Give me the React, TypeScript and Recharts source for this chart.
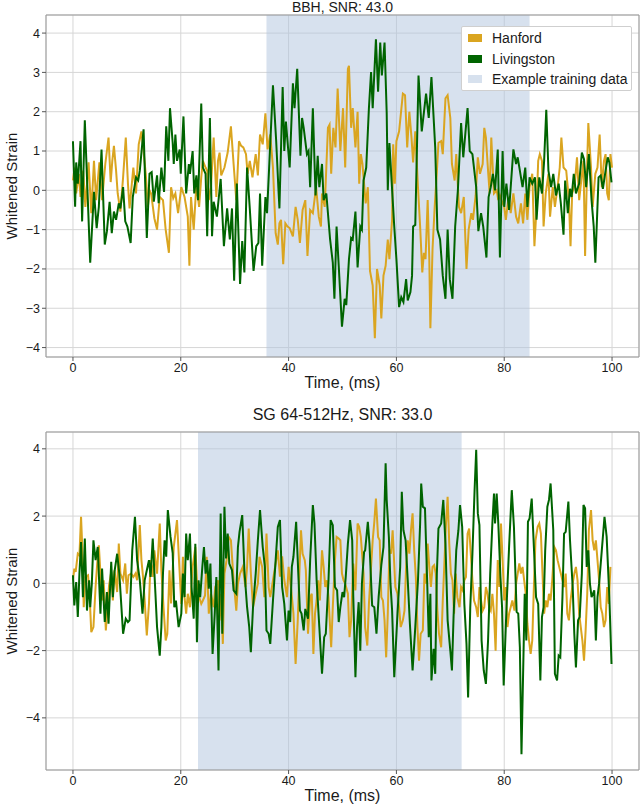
import { LineChart, Line, XAxis, YAxis, CartesianGrid, ReferenceArea } from 'recharts'

const HANFORD = '#daa520'
const LIVINGSTON = '#006400'
const TRAINING = '#b0c4de'
const FONT = "'Liberation Sans', Arial, sans-serif"

const X_TICKS = [0, 20, 40, 60, 80, 100]
const BBH_Y_TICKS = [-4, -3, -2, -1, 0, 1, 2, 3, 4]
const SG_Y_TICKS = [-4, -2, 0, 2, 4]

// training window (ms)
const BBH_WINDOW = [35.9, 84.7]
const SG_WINDOW = [23.2, 72.1]

// [time ms, whitened strain]
const BBH_HANFORD: [number, number][] = [
  [0, 0.25], [0.3, 0.58], [0.6, -0.08], [1.1, 0.42], [1.4, -0.17], [1.9, 0.5], [2.3, -0.42], [2.9, 0.71], [3.4, -0.58], [3.9, 0.75],
  [4.3, -0.25], [4.9, 0.71], [5.4, -0.25], [6.0, 0.67], [6.6, 1.34], [7.0, 0.21], [7.3, 0.75], [7.6, 1.13], [8.0, 0.5], [8.3, -0.08],
  [8.8, -0.54], [9.3, 0.33], [9.8, 1.34], [10.2, 0.17], [10.5, -0.46], [11.2, 0.58], [11.7, -0.08], [12.2, 1.17], [12.7, 1.5], [13.1, 1.0],
  [13.5, 0.42], [13.9, -0.42], [14.2, 0.0], [14.5, -0.08], [15.1, -0.71], [15.6, -1.0], [16.1, -0.17], [16.7, -0.25], [17.2, -1.0], [17.8, -1.59],
  [18.2, 0.08], [18.6, -0.2], [19.0, -0.08], [19.5, -0.58], [20.1, 0.08], [20.7, -0.17], [21.3, -0.67], [21.6, -1.92], [21.9, -0.17], [22.4, -1.0],
  [22.9, 0.17], [23.4, -0.42], [23.8, 0.33], [24.1, 0.75], [24.6, 0.58], [24.9, 0.5], [25.2, -0.25], [25.6, 0.08], [26.1, 1.34], [26.6, -0.17],
  [26.9, 0.75], [27.2, 0.96], [27.5, 0.38], [28.1, 0.58], [28.7, 0.96], [29.3, 1.63], [29.8, 0.67], [30.3, -0.25], [30.8, 1.25], [31.2, 1.13],
  [31.6, 1.09], [32.1, 0.92], [32.4, 0.42], [32.8, 0.75], [33.3, 0.33], [33.9, 0.92], [34.3, 0.38], [34.7, 1.42], [35.2, 1.17], [35.7, 1.96],
  [36.1, 1.04], [36.6, 1.42], [37.1, 0.58], [37.6, -1.09], [38.0, -1.38], [38.3, -0.84], [38.6, -0.75], [39.0, -1.88], [39.4, -0.84], [39.8, -0.92],
  [40.2, -0.96], [40.8, -1.17], [41.3, -0.42], [41.7, -0.75], [42.1, -1.34], [42.6, -0.5], [43.1, -0.25], [43.5, -1.67], [44.0, -0.5], [44.5, -0.58],
  [45.1, 0.08], [45.6, -0.67], [46.0, -0.92], [46.2, -0.08], [46.7, -0.42], [47.0, 0.58], [47.3, 1.59], [47.6, 1.67], [47.9, 0.42], [48.3, 1.59],
  [48.7, 1.09], [49.1, 2.59], [49.6, 1.0], [50.1, 2.09], [50.5, 0.58], [51.0, 3.09], [51.2, 3.17], [51.6, 1.59], [51.9, 2.09], [52.4, 1.09],
  [52.8, 2.0], [53.1, 0.17], [53.4, 0.92], [53.7, 0.67], [54.3, -0.33], [54.7, 0.08], [55.1, -2.05], [55.6, -2.42], [56.0, -3.76], [56.4, -2.0],
  [56.9, -2.42], [57.2, -3.26], [57.6, -2.17], [58.0, -1.92], [58.4, -1.25], [58.7, -1.75], [59.2, -0.75], [59.4, 1.17], [59.7, 0.17], [60.0, 1.25],
  [60.5, 1.5], [61.2, 2.46], [61.6, 2.42], [62.0, 1.09], [62.4, 2.0], [62.8, 1.34], [63.1, 0.71], [63.5, 1.5], [64.0, 0.08], [64.4, -0.92],
  [64.8, -2.09], [65.1, -1.59], [65.4, -1.75], [65.8, -0.25], [66.1, -1.75], [66.3, -3.51], [66.7, -1.5], [67.1, -0.42], [67.5, 0.46], [67.8, 1.21],
  [68.3, 1.25], [68.6, 0.92], [69.1, 2.34], [69.5, 2.42], [70.0, 1.84], [70.3, 0.67], [70.8, 0.25], [71.1, 0.92], [71.6, -0.42], [72.0, -0.58],
  [72.5, -0.17], [73.0, -2.0], [73.4, -1.0], [73.9, -0.58], [74.2, -0.75], [74.7, -0.13], [75.1, 0.84], [75.5, 0.42], [76.0, 0.67], [76.3, 1.59],
  [76.6, 1.34], [77.0, 0.5], [77.3, -0.08], [77.6, 1.34], [78.1, -0.08], [78.6, 0.0], [78.9, -0.25], [79.2, -0.13], [79.6, -0.29], [80.0, -0.42],
  [80.3, -0.75], [80.8, -0.17], [81.2, -0.58], [81.7, -0.08], [82.2, -0.67], [82.6, -0.84], [83.1, -0.33], [83.5, -0.84], [83.9, -0.08], [84.3, -0.75],
  [84.7, 0.08], [85.2, 0.42], [85.6, -1.42], [86.0, -0.42], [86.3, 0.75], [86.6, 0.92], [87.0, 0.75], [87.3, -0.92], [87.7, -0.08], [88.2, 0.42],
  [88.5, -0.67], [89.0, 0.08], [89.4, -0.42], [89.9, 0.08], [90.3, 0.58], [90.6, 1.34], [91.0, 0.58], [91.5, 0.5], [92.0, -0.25], [92.3, -1.42],
  [92.6, -0.08], [93.1, 0.17], [93.5, 0.84], [93.9, -0.25], [94.4, 0.38], [94.7, 0.75], [95.0, -1.67], [95.4, 0.75], [95.6, 1.71], [96.1, 0.58],
  [96.4, -0.42], [96.9, 0.42], [97.3, 0.58], [97.7, 1.42], [98.1, 0.08], [98.5, 0.75], [98.8, 0.92], [99.1, -0.08], [99.4, -0.25], [99.7, 0.92],
  [100, 0.58],
]

const BBH_LIVINGSTON: [number, number][] = [
  [0, 1.25], [0.4, -0.42], [0.6, 0.71], [0.9, 0.17], [1.4, 1.25], [1.7, -0.79], [2.2, 1.78], [3.2, -1.84], [3.9, -0.04], [4.4, -0.96],
  [4.8, -0.42], [5.3, 1.04], [5.9, -1.38], [6.3, -1.04], [6.8, -0.29], [7.2, -1.09], [7.6, -0.54], [8.0, -0.75], [8.5, -0.33], [8.8, -0.46],
  [9.3, 0.08], [9.7, -0.79], [10.1, -0.92], [10.7, -1.34], [11.1, -0.17], [11.7, 0.33], [12.1, 0.25], [12.4, 0.5], [13.1, 1.55], [13.7, -1.21],
  [14.2, 0.42], [14.6, 0.46], [15.0, -0.29], [15.6, 0.38], [15.9, -0.33], [16.4, 0.58], [16.9, -0.04], [17.3, 1.63], [17.7, 0.75], [18.0, 2.09],
  [18.5, 1.21], [18.7, 0.67], [19.0, 1.42], [19.3, 0.75], [19.8, 1.04], [20.0, 0.42], [20.5, 1.88], [21.0, -0.08], [21.5, 0.67], [21.7, 0.42],
  [22.2, 1.0], [22.5, -0.08], [22.9, 0.38], [23.2, -0.25], [23.8, 2.21], [24.1, 0.58], [24.6, 0.42], [24.9, -1.17], [25.4, 1.84], [25.8, -1.17],
  [26.1, -0.29], [26.7, -0.67], [27.4, 0.29], [28.0, -1.42], [28.6, -0.46], [29.1, -1.25], [29.5, -0.46], [29.9, -2.3], [30.4, 0.17], [31.0, -2.38],
  [31.4, -1.29], [31.8, -2.09], [32.3, 0.58], [32.8, -0.46], [33.5, -2.05], [34.0, -1.42], [34.4, -1.34], [34.7, -0.08], [35.1, -1.92], [35.7, -0.17],
  [36.0, -0.58], [37.1, 2.67], [37.7, 1.25], [38.1, 0.08], [38.3, -0.46], [38.9, 2.63], [39.2, 1.0], [39.5, 1.75], [40.2, 0.58], [40.8, 2.72],
  [41.1, 2.09], [41.6, 3.09], [42.2, 0.88], [42.5, 1.84], [42.8, 1.59], [43.4, 0.92], [43.7, 1.0], [44.0, 0.08], [44.5, 2.09], [45.0, -0.13],
  [45.4, 0.88], [45.7, 0.08], [46.2, 0.67], [46.5, -0.25], [47.0, -0.08], [47.7, -1.25], [48.2, -1.84], [48.5, -2.76], [48.9, -0.92], [49.3, -1.92],
  [49.9, -3.47], [50.4, -2.76], [50.7, -2.92], [51.2, -1.75], [51.6, -1.21], [51.9, -1.25], [52.4, -0.54], [52.8, -1.96], [53.3, -0.92], [53.6, -1.0],
  [53.9, 0.25], [54.4, 0.58], [54.9, 2.09], [55.3, 3.01], [55.6, 2.09], [56.2, 3.84], [56.6, 2.51], [57.0, 3.76], [57.3, 2.92], [57.8, 3.76],
  [58.2, 1.96], [58.4, 0.0], [58.7, 1.2], [59.6, -0.92], [60.0, -1.75], [60.5, -2.97], [60.9, -2.72], [61.3, -2.84], [61.8, -2.26], [62.1, -2.8],
  [62.6, -2.59], [62.9, -2.17], [63.1, -0.92], [63.5, -0.88], [64.1, 2.92], [64.7, 1.5], [65.5, 2.46], [66.0, 1.84], [66.5, 2.88], [67.2, 1.09],
  [67.6, -1.0], [68.1, -1.25], [68.6, -2.17], [69.1, -2.76], [69.5, -1.0], [69.9, -2.26], [70.4, -2.76], [70.9, -0.92], [71.4, 0.0], [72.0, 1.71],
  [72.4, 0.84], [73.2, 2.09], [73.6, 1.0], [74.1, 0.92], [74.8, 0.08], [75.2, -1.04], [75.7, -0.58], [76.1, -0.92], [76.7, -1.71], [77.1, -0.17],
  [77.5, 0.08], [77.9, 0.42], [78.3, 0.0], [78.8, 1.04], [79.2, -1.71], [79.7, 1.0], [80.0, -0.42], [80.4, 0.17], [80.9, -0.5], [81.7, 1.04],
  [82.2, 0.67], [82.5, 0.84], [82.9, 0.5], [83.4, 0.08], [83.9, 0.58], [84.3, -0.42], [84.7, 0.33], [85.2, 0.17], [85.7, 0.33], [86.0, -0.75],
  [86.5, 0.33], [87.0, -0.08], [87.4, 0.75], [87.8, 2.05], [88.2, 0.5], [88.7, 0.08], [89.1, 0.42], [89.6, -0.13], [90.1, 0.17], [90.5, -0.33],
  [91.0, -1.13], [91.3, 0.25], [91.8, -0.58], [92.2, 0.04], [92.5, -0.17], [92.9, 0.42], [93.3, -0.08], [93.9, 0.17], [94.4, 0.96], [94.8, 0.79],
  [95.2, 0.08], [95.7, 0.92], [96.2, -0.25], [96.6, -0.92], [96.9, -1.84], [97.5, 0.33], [97.9, 0.38], [98.3, 0.04], [98.8, 0.5], [99.2, 0.84],
  [99.5, 0.71], [99.9, 0.2],
]

const SG_HANFORD: [number, number][] = [
  [0, 0.09], [0.25, 0.44], [0.5, 0.34], [0.9, 0.88], [1.2, 0.83], [1.5, 1.98], [1.7, 1.18], [2.0, -0.71], [2.3, 0.19], [2.8, 0.24],
  [3.1, -0.41], [3.4, -1.45], [3.8, -1.3], [4.2, -0.11], [4.5, 0.59], [4.8, 1.13], [5.1, 0.29], [5.4, -0.51], [5.7, 0.09], [6.1, -1.4],
  [6.4, -0.71], [6.7, -0.06], [7.1, 0.34], [7.4, -0.51], [7.7, 0.39], [8.2, -0.26], [8.5, 1.18], [8.8, 0.29], [9.3, 0.09], [9.7, 0.59],
  [10.0, -0.31], [10.3, 0.24], [10.8, 0.29], [11.2, 0.19], [11.6, 0.29], [11.9, 0.09], [12.4, 1.73], [12.7, 0.69], [13.0, 0.19], [13.3, -0.51],
  [13.7, -1.55], [14.1, -0.61], [14.4, 0.69], [14.8, 0.19], [15.1, 0.98], [15.6, 0.29], [16.1, 1.78], [16.4, 0.39], [16.8, -0.71], [17.2, -1.7],
  [17.5, -1.5], [17.9, 0.39], [18.2, -0.6], [18.7, 1.08], [19.3, 1.88], [19.7, 0.59], [20.1, -0.61], [20.4, 0.79], [20.7, -0.41], [21.0, -0.9],
  [21.3, -0.31], [21.7, -0.71], [22.2, 0.49], [22.7, 1.08], [23.0, 0.09], [23.4, -0.41], [23.8, -0.61], [24.1, -0.51], [24.5, -0.36], [24.8, 0.79],
  [25.2, -0.9], [25.6, -0.31], [26.1, -0.71], [26.4, -0.11], [26.9, 0.09], [27.2, -1.1], [27.5, -0.31], [27.8, -1.8], [28.1, 0.29], [28.5, 0.69],
  [28.9, 1.38], [29.3, 1.28], [29.8, 0.09], [30.3, -0.81], [30.6, -0.01], [31.0, 0.29], [31.5, 0.49], [32.0, -0.11], [32.3, 0.49], [32.6, 1.63],
  [33.0, 0.29], [33.4, -0.71], [33.9, -0.31], [34.3, -0.01], [34.6, 0.79], [35.1, 0.49], [35.5, -0.41], [35.9, 1.48], [36.3, -0.11], [36.6, -0.41],
  [37.1, 0.09], [37.6, 0.59], [38.0, 0.98], [38.4, 0.2], [38.8, 0.8], [39.2, 0.1], [39.7, -0.41], [40.0, 0.49], [40.5, -0.21], [40.9, -0.9],
  [41.3, -2.4], [41.7, -1.1], [42.0, 0.29], [42.3, 1.58], [42.6, 0.88], [43.0, 0.69], [43.2, 0.39], [43.6, -1.5], [44.0, -0.41], [44.3, -0.31],
  [44.6, -2.1], [44.9, -0.9], [45.2, -0.51], [45.5, 0.09], [45.8, -0.51], [46.2, 0.98], [46.5, 0.49], [46.8, -0.11], [47.1, 0.09], [47.4, -0.41],
  [47.9, -1.9], [48.2, -0.71], [48.6, 0.69], [48.9, 1.38], [49.3, 1.33], [49.6, 1.28], [49.9, 0.29], [50.2, 0.09], [50.5, -0.01], [51.0, -0.31],
  [51.3, -1.6], [51.6, -1.1], [52.0, 0.59], [52.4, -0.21], [52.8, 1.78], [53.1, 1.68], [53.4, 1.38], [53.9, 0.29], [54.2, -1.3], [54.6, -1.85],
  [54.9, -0.61], [55.3, 0.49], [55.6, 1.28], [55.9, 1.83], [56.2, 2.52], [56.6, 1.38], [56.9, 1.28], [57.2, -0.41], [57.5, -0.51], [57.8, -1.1],
  [58.1, -2.2], [58.4, -0.9], [58.7, 1.0], [59.0, 0.88], [59.3, 1.58], [59.8, -0.11], [60.2, -0.31], [60.5, -0.71], [60.8, -1.3], [61.2, -1.1],
  [61.5, -0.81], [61.8, 0.49], [62.1, 1.28], [62.4, 0.88], [62.7, 1.58], [63.0, 2.08], [63.3, 0.98], [63.6, 0.19], [63.9, -1.3], [64.2, -2.3],
  [64.5, -1.5], [64.9, -1.4], [65.2, 0.29], [65.5, -0.01], [65.8, 1.18], [66.1, 0.49], [66.4, -0.11], [66.7, 0.49], [67.0, 0.54], [67.3, 0.29],
  [67.6, -0.81], [67.9, -1.5], [68.3, -1.9], [68.6, -0.51], [68.9, 0.59], [69.2, 1.78], [69.5, 2.57], [69.8, 1.18], [70.1, 0.29], [70.4, 0.09],
  [70.7, -0.9], [71.0, 0.29], [71.3, -0.41], [71.7, -0.71], [72.0, -0.11], [72.3, -0.21], [72.6, 0.09], [72.9, 0.19], [73.2, 1.48], [73.5, 1.63],
  [73.8, 0.88], [74.1, 0.09], [74.4, -0.51], [74.8, -0.71], [75.1, -1.0], [75.4, -0.11], [75.7, -0.51], [76.0, -0.81], [76.3, -0.71], [76.6, -0.11],
  [76.9, -0.31], [77.2, -0.71], [77.5, -0.81], [77.8, -0.31], [78.1, -0.9], [78.4, -2.0], [78.8, 0.69], [79.1, -0.11], [79.4, 1.78], [79.7, 0.69],
  [80.0, -0.51], [80.3, -0.11], [80.6, -1.3], [80.9, -0.9], [81.2, -0.71], [81.5, -0.51], [81.9, -0.81], [82.2, -0.01], [82.5, 0.29], [82.8, 0.59],
  [83.1, 0.29], [83.4, 0.49], [83.7, 0.09], [84.0, -0.31], [84.3, -1.2], [84.6, -1.7], [84.9, -2.1], [85.2, -1.7], [85.5, -0.11], [85.8, 1.28],
  [86.2, 1.68], [86.5, 1.78], [86.8, 1.48], [87.1, 0.29], [87.4, -0.9], [87.7, -0.51], [88.0, -0.71], [88.3, -0.31], [88.6, -0.51], [88.9, 0.09],
  [89.3, 1.08], [89.6, 0.98], [89.9, 0.69], [90.2, 0.49], [90.5, 0.29], [90.8, 0.09], [91.1, -0.11], [91.4, 0.29], [91.7, -0.9], [92.0, -1.1],
  [92.3, -0.51], [92.7, -0.01], [93.0, 0.29], [93.3, 0.49], [93.6, 0.09], [93.9, -0.9], [94.2, -1.3], [94.5, -1.7], [94.8, -2.3], [95.1, -1.4],
  [95.4, -0.31], [95.7, 1.58], [96.1, 2.18], [96.4, 1.28], [96.7, 0.98], [97.0, 1.28], [97.3, 0.69], [97.6, 0.09], [97.9, -0.71], [98.2, -0.9],
  [98.5, -1.3], [98.8, -1.1], [99.1, -0.11], [99.4, -0.61], [99.7, 0.49],
]

const SG_LIVINGSTON: [number, number][] = [
  [0, 0.24], [0.25, -0.66], [0.6, 0.04], [0.9, -1.0], [1.2, 0.29], [1.5, 1.23], [1.85, -0.41], [2.2, 1.33], [2.6, -0.81], [3.0, 0.09],
  [3.2, -0.71], [3.5, -0.01], [3.8, 1.28], [4.2, 0.69], [4.6, 1.08], [5.1, -0.9], [5.4, 0.44], [5.9, -1.15], [6.3, -0.26], [6.6, -1.2],
  [7.1, 0.64], [7.4, -0.41], [7.7, 0.34], [8.2, 0.88], [8.6, 0.29], [9.3, -1.5], [9.8, -1.05], [10.2, -1.15], [10.5, -1.1], [11.0, 0.98],
  [11.5, 1.98], [11.9, 0.69], [12.4, 0.09], [12.9, -0.9], [13.3, 0.09], [13.7, 0.39], [14.1, 0.69], [14.4, 0.19], [14.8, 1.33], [15.3, -0.31],
  [15.6, -1.3], [16.1, -2.15], [16.4, -1.3], [16.7, 0.29], [17.0, 1.28], [17.3, 0.79], [17.6, 2.18], [18.1, 1.38], [18.5, 0.9], [18.8, -0.71],
  [19.1, -0.51], [19.6, -1.3], [20.1, -0.9], [20.4, 0.29], [20.7, -0.41], [21.0, 1.48], [21.3, 0.69], [21.7, 1.48], [22.0, -0.11], [22.4, -1.05],
  [22.7, 1.18], [23.0, -1.75], [23.3, 0.09], [23.6, -0.41], [24.0, 0.49], [24.3, 1.08], [24.6, 0.29], [24.9, 0.69], [25.2, -0.16], [25.5, 0.59],
  [25.9, -2.1], [26.3, -0.9], [26.6, 0.19], [27.0, -2.59], [27.4, 2.08], [27.7, -1.5], [28.1, 2.28], [28.4, 0.74], [28.7, 1.48], [29.0, 0.59],
  [29.5, 0.39], [29.8, -0.21], [30.3, -0.31], [30.6, 1.08], [30.9, 1.53], [31.4, 2.03], [31.8, 0.39], [32.3, -0.71], [32.7, -1.3], [33.0, -2.05],
  [33.4, -0.71], [33.9, 0.29], [34.3, 1.28], [34.7, 2.18], [35.2, 1.08], [35.6, 0.49], [35.9, -1.4], [36.3, -1.5], [36.6, -1.8], [37.1, -0.51],
  [37.6, 0.69], [38.0, 1.68], [38.4, 1.88], [38.8, -0.11], [39.2, -0.61], [39.7, -1.7], [40.0, -0.81], [40.3, -1.15], [40.6, 0.49], [40.9, 0.79],
  [41.4, 1.83], [41.8, 0.29], [42.1, -0.81], [42.4, -0.9], [42.8, -1.4], [43.1, -0.76], [43.6, -1.05], [44.0, 0.69], [44.5, 2.33], [44.8, 1.78],
  [45.2, 0.09], [45.7, -1.3], [46.2, -2.69], [46.6, -1.6], [46.9, -1.5], [47.4, 0.09], [47.8, 1.88], [48.2, 1.73], [48.6, -0.11], [49.0, -0.21],
  [49.3, -1.15], [49.6, -0.71], [50.0, -0.26], [50.3, -0.41], [50.6, 0.19], [51.0, 1.18], [51.4, 1.88], [51.8, 1.28], [52.0, -0.41], [52.4, -2.79],
  [52.7, -1.3], [53.0, -0.56], [53.3, -2.0], [53.6, -0.01], [54.0, 0.93], [54.2, 0.98], [54.7, 1.83], [55.0, 1.18], [55.5, -0.66], [55.9, -0.71],
  [56.3, -1.5], [56.7, -0.41], [57.2, 0.54], [57.6, 1.08], [58.0, 3.57], [58.2, 2.48], [58.6, 1.38], [58.9, -0.01], [59.2, -0.8], [59.6, -2.79],
  [60.2, -0.9], [60.7, 0.49], [61.0, 2.72], [61.3, 1.58], [61.7, 1.28], [62.1, 0.09], [62.5, -1.2], [63.0, -2.59], [63.5, -1.3], [64.0, 0.09],
  [64.4, 1.78], [64.6, 2.97], [64.9, 2.28], [65.3, 2.23], [65.7, 0.09], [66.0, -1.6], [66.3, -0.31], [66.5, -2.89], [66.9, -1.95], [67.2, -2.69],
  [67.5, 0.29], [67.8, 1.63], [68.3, 1.78], [68.7, 2.48], [69.1, 1.18], [69.5, -1.1], [70.0, -2.0], [70.3, -2.59], [70.6, -1.0], [71.1, 0.98],
  [71.5, 1.58], [71.8, 2.33], [72.2, 1.68], [72.6, -0.61], [73.0, -1.8], [73.3, -3.39], [73.7, -0.71], [74.1, 0.88], [74.5, 2.77], [74.8, 3.97],
  [75.1, 2.08], [75.4, 1.73], [75.8, -1.7], [76.2, -2.59], [76.6, -2.99], [77.0, -1.7], [77.4, 0.29], [77.8, 1.78], [78.1, 2.67], [78.3, 1.78],
  [78.6, 2.67], [78.9, 1.78], [79.3, 0.19], [79.6, -0.71], [79.9, -3.04], [80.4, -0.81], [80.9, 1.08], [81.4, 2.77], [81.8, 1.68], [82.3, -0.85],
  [82.6, -0.9], [82.9, -1.9], [83.2, -5.08], [83.6, -1.9], [83.8, -0.31], [84.1, -1.7], [84.4, 1.83], [84.7, 1.93], [85.1, 2.52], [85.5, 1.08],
  [85.9, -0.41], [86.3, -0.61], [86.7, -2.89], [87.0, -1.0], [87.3, -0.71], [87.6, 0.98], [88.0, 2.28], [88.3, 2.48], [88.6, 2.97], [89.1, 1.58],
  [89.4, -2.69], [89.8, -2.89], [90.1, -2.15], [90.4, -2.2], [90.8, -0.41], [91.1, 1.48], [91.4, 1.53], [91.9, 2.43], [92.2, 1.28], [92.7, -0.11],
  [93.0, -1.5], [93.3, -2.5], [93.7, -1.1], [94.0, -1.0], [94.4, 0.29], [94.7, 2.33], [95.0, 2.23], [95.3, 0.49], [95.6, 0.98], [95.9, -0.01],
  [96.2, -0.41], [96.7, -0.21], [97.0, -1.7], [97.3, -0.41], [97.6, -0.01], [98.1, 0.98], [98.6, 1.98], [99.0, 1.38], [99.5, -0.41], [99.9, -2.4],
]

const toRows = (pts: [number, number][]) => pts.map(([t, v]) => ({ t, v }))
const minus = (v: number) => String(v).replace('-', '\u2212')

interface PanelProps {
  title: string
  hanford: [number, number][]
  livingston: [number, number][]
  win: number[]
  yTicks: number[]
  yDomain: [number, number]
  top: number
  height: number
  marginTop: number
  titleTop: number
  titleSize: number
  legend?: boolean
}

function Panel({ title, hanford, livingston, win, yTicks, yDomain, top, height, marginTop, titleTop, titleSize, legend }: PanelProps) {
  const plotBottom = top + height - 12 - 30
  const plotTop = top + marginTop
  const text = { position: 'absolute' as const, fontFamily: FONT, color: '#1a1a1a', textAlign: 'center' as const }
  return (
    <>
      <div style={{ position: 'absolute', left: 0, top, width: 640, height }}>
        <LineChart width={640} height={height} margin={{ top: marginTop, right: 1, bottom: 12, left: 0 }}>
          <CartesianGrid stroke="#d6d6d6" strokeWidth={1} />
          <ReferenceArea x1={win[0]} x2={win[1]} fill={TRAINING} fillOpacity={0.5} stroke="none" ifOverflow="hidden" />
          <XAxis type="number" dataKey="t" domain={[-5, 105]} ticks={X_TICKS} height={30}
            axisLine={false} tickSize={4} tickMargin={2} tickLine={{ stroke: '#555' }}
            tick={{ fontSize: 12.5, fill: '#1a1a1a', fontFamily: FONT }} />
          <YAxis type="number" domain={yDomain} ticks={yTicks} width={46} allowDataOverflow
            axisLine={false} tickSize={4} tickMargin={2} tickLine={{ stroke: '#555' }} tickFormatter={minus}
            tick={{ fontSize: 12.5, fill: '#1a1a1a', fontFamily: FONT }} />
          <Line data={toRows(hanford)} dataKey="v" type="linear" stroke={HANFORD} strokeWidth={2} dot={false} isAnimationActive={false} />
          <Line data={toRows(livingston)} dataKey="v" type="linear" stroke={LIVINGSTON} strokeWidth={2} dot={false} isAnimationActive={false} />
          <ReferenceArea x1={-5} x2={105} y1={yDomain[0]} y2={yDomain[1]} fill="none" stroke="#999" strokeWidth={1} ifOverflow="visible" />
        </LineChart>
      </div>
      <div style={{ ...text, left: 46, width: 593, top: titleTop, fontSize: titleSize, lineHeight: `${titleSize}px` }}>{title}</div>
      <div style={{ ...text, left: 46, width: 593, top: plotBottom + 17, fontSize: 16, lineHeight: '18px' }}>Time, (ms)</div>
      <div style={{ ...text, left: 12 - 100, width: 200, top: (plotTop + plotBottom) / 2 - 9, fontSize: 15, lineHeight: '18px', transform: 'rotate(-90deg)' }}>Whitened Strain</div>
      {legend && (
        <div style={{ position: 'absolute', left: 461, top: top + 26, width: 169, height: 63, background: '#fff', border: '1px solid #cfcfcf', borderRadius: 2, fontFamily: FONT, fontSize: 14, color: '#1a1a1a' }}>
          {[['Hanford', HANFORD, 1], ['Livingston', LIVINGSTON, 1], ['Example training data', TRAINING, 0.5]].map(([name, color, op], i) => (
            <div key={i} style={{ position: 'absolute', left: 6, top: 2 + i * 20.5, height: 18, display: 'flex', alignItems: 'center', whiteSpace: 'nowrap' }}>
              <span style={{ display: 'inline-block', width: 14, height: 8, background: color as string, opacity: op as number, marginRight: 10 }} />
              {name}
            </div>
          ))}
        </div>
      )}
    </>
  )
}

export default function App() {
  return (
    <div style={{ position: 'absolute', left: 0, top: 0, width: 640, height: 812, background: '#fff', overflow: 'hidden' }}>
      <Panel title="BBH, SNR: 43.0" hanford={BBH_HANFORD} livingston={BBH_LIVINGSTON} win={BBH_WINDOW}
        yTicks={BBH_Y_TICKS} yDomain={[-4.24, 4.46]} top={0} height={399} marginTop={15} titleTop={0} titleSize={14} legend />
      <Panel title="SG 64-512Hz, SNR: 33.0" hanford={SG_HANFORD} livingston={SG_LIVINGSTON} win={SG_WINDOW}
        yTicks={SG_Y_TICKS} yDomain={[-5.55, 4.5]} top={420} height={392} marginTop={12} titleTop={407} titleSize={16} />
    </div>
  )
}
